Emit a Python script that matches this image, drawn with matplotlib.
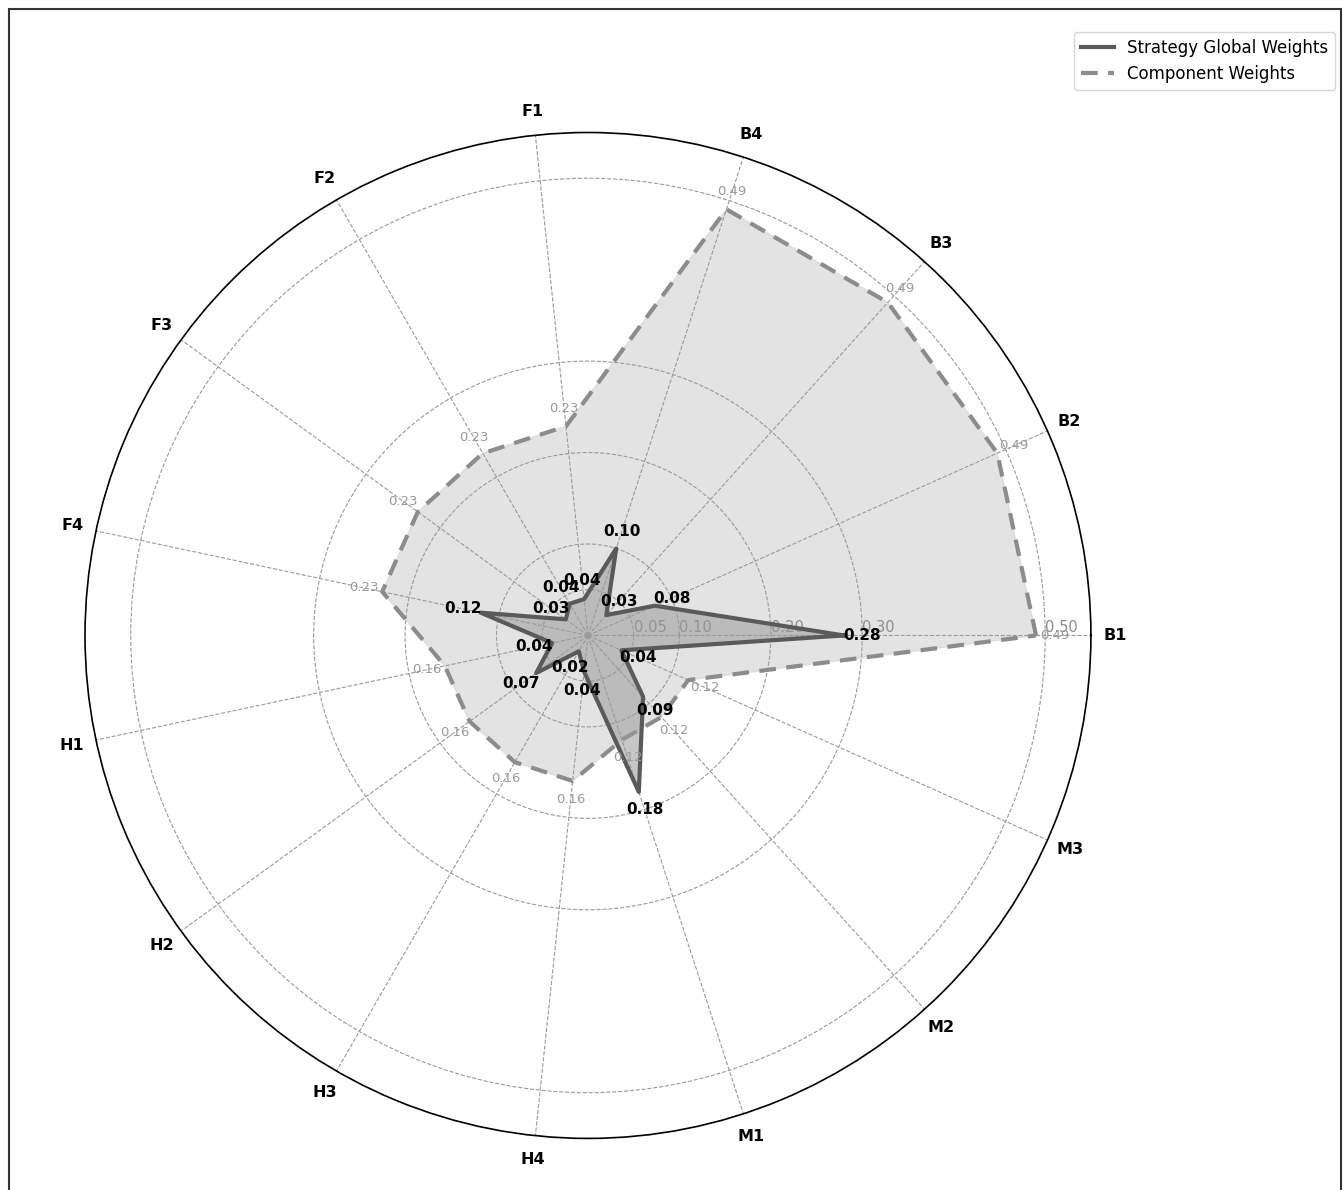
import numpy as np
import matplotlib
matplotlib.use("Agg")
import matplotlib.pyplot as plt
from matplotlib.patches import Rectangle

categories = ["B1", "B2", "B3", "B4", "F1", "F2", "F3", "F4",
              "H1", "H2", "H3", "H4", "M1", "M2", "M3"]
strategy_weights = [0.28, 0.08, 0.03, 0.10, 0.04, 0.04, 0.03, 0.12,
                    0.04, 0.07, 0.02, 0.04, 0.18, 0.09, 0.04]
component_weights = [0.49, 0.49, 0.49, 0.49, 0.23, 0.23, 0.23, 0.23,
                     0.16, 0.16, 0.16, 0.16, 0.12, 0.12, 0.12]
r_ticks = [0.05, 0.10, 0.20, 0.30, 0.50]

n = len(categories)
angles = np.linspace(0, 2 * np.pi, n, endpoint=False)
ang_c = np.append(angles, angles[0])
s_c = np.append(strategy_weights, strategy_weights[0])
c_c = np.append(component_weights, component_weights[0])

fig = plt.figure(figsize=(13.43, 11.9), dpi=100)
ax = fig.add_axes([0.0633, 0.0410, 0.749, 0.850], projection="polar")

ax.fill(ang_c, c_c, color="#d4d4d4", alpha=0.65, zorder=1)
ax.plot(ang_c, c_c, color="#8c8c8c", lw=3, ls=(0, (4, 2.5)),
        label="Component Weights", zorder=2)
ax.fill(ang_c, s_c, color="#9a9a9a", alpha=0.55, zorder=3)
ax.plot(ang_c, s_c, color="#5a5a5a", lw=3, label="Strategy Global Weights", zorder=4)

for a, v in zip(angles, component_weights):
    ax.text(a, v + 0.02, f"{v:.2f}", color="#9a9a9a", fontsize=9.5,
            ha="center", va="center", zorder=5)
for a, v in zip(angles, strategy_weights):
    ax.text(a, v + 0.02, f"{v:.2f}", color="black", fontsize=11,
            fontweight="bold", ha="center", va="center", zorder=6)

ax.set_xticks(angles)
ax.set_xticklabels(categories, fontsize=11.5, fontweight="bold")
ax.tick_params(axis="x", pad=7)
ax.set_ylim(0, 0.55)
ax.set_yticks(r_ticks)
ax.set_yticklabels([f"{t:.2f}" for t in r_ticks], color="#8c8c8c", fontsize=10.5)
ax.set_rlabel_position(0)
ax.grid(True, ls="--", color="#9a9a9a", lw=0.8)
ax.spines["polar"].set_color("black")
ax.spines["polar"].set_linewidth(1.2)

handles, labels = ax.get_legend_handles_labels()
fig.legend(handles[::-1], labels[::-1], loc="upper right",
           bbox_to_anchor=(1335 / 1343, 1 - 32 / 1190), fontsize=12,
           borderaxespad=0)

fig.add_artist(Rectangle((9 / 1343, -0.01), 1332 / 1343, 1 - 9 / 1190 + 0.01,
                         transform=fig.transFigure, fill=False,
                         edgecolor="#333333", lw=1.5))

fig.savefig("out.png", dpi=100)
